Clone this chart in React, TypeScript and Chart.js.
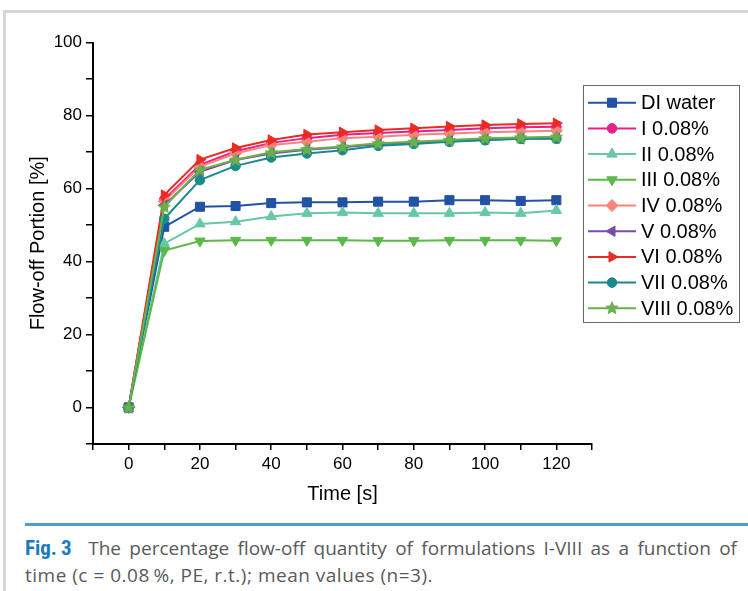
import React, { useEffect, useRef } from 'react';
import { Chart, registerables } from 'chart.js';

Chart.register(...registerables);

// ---- data ----
const times = [0, 10, 20, 30, 40, 50, 60, 70, 80, 90, 100, 110, 120];
const seriesNames = ['DI water', 'I 0.08%', 'II 0.08%', 'III 0.08%', 'IV 0.08%', 'V 0.08%', 'VI 0.08%', 'VII 0.08%', 'VIII 0.08%'];
const diWater = [0, 49.5, 55.0, 55.2, 56.0, 56.2, 56.2, 56.4, 56.4, 56.8, 56.8, 56.6, 56.8];
const form1 = [0, 57.0, 66.5, 70.2, 72.5, 73.8, 74.7, 75.2, 75.6, 76.0, 76.5, 76.8, 76.9];
const form2 = [0, 44.9, 50.3, 50.9, 52.3, 53.2, 53.4, 53.2, 53.2, 53.2, 53.4, 53.2, 54.0];
const form3 = [0, 43.0, 45.6, 45.8, 45.8, 45.8, 45.8, 45.7, 45.7, 45.8, 45.8, 45.8, 45.7];
const form4 = [0, 56.5, 66.0, 69.6, 71.9, 72.8, 73.8, 74.2, 74.7, 75.1, 75.4, 75.6, 75.8];
const form5 = [0, 55.4, 64.6, 67.8, 69.6, 70.6, 71.3, 72.1, 72.6, 73.0, 73.4, 73.6, 73.8];
const form6 = [0, 58.2, 67.9, 71.1, 73.3, 74.8, 75.4, 76.0, 76.5, 77.0, 77.4, 77.7, 77.9];
const form7 = [0, 51.7, 62.3, 66.2, 68.5, 69.6, 70.5, 71.7, 72.2, 72.8, 73.2, 73.6, 73.6];
const form8 = [0, 55.0, 65.1, 67.9, 69.9, 70.8, 71.5, 72.4, 72.8, 73.3, 73.8, 74.0, 74.2];
const seriesValues = [diWater, form1, form2, form3, form4, form5, form6, form7, form8];

const xTickValues = [-10, 0, 10, 20, 30, 40, 50, 60, 70, 80, 90, 100, 110, 120, 130];
const xTickLabels = [0, 20, 40, 60, 80, 100, 120];
const yTickValues = [-10, 0, 10, 20, 30, 40, 50, 60, 70, 80, 90, 100];
const yTickLabels = [0, 20, 40, 60, 80, 100];

// ---- styles ----
const colors = ['#2252a3', '#e8208c', '#68c7a6', '#5cb848', '#f6847b', '#7b4ca9', '#ec2a22', '#1a8a8b', '#6ab04c'];
const markerStyles = ['rect', 'circle', 'triangle', 'triangle', 'rectRot', 'triangle', 'triangle', 'circle', 'star'];
const markerRotations = [0, 0, 0, 180, 0, 270, 90, 0, 0];
const markerRadii = [6.4, 4.8, 6, 6, 6, 6, 6, 4.8, 6.5];

const FONT = "'Liberation Sans', Arial, sans-serif";

function drawMarker(ctx: CanvasRenderingContext2D, style: string, x: number, y: number, r: number, rot: number, color: string) {
  ctx.save();
  ctx.fillStyle = color;
  ctx.strokeStyle = color;
  ctx.lineWidth = 1;
  ctx.beginPath();
  if (style === 'rect') {
    const h = r * Math.SQRT1_2;
    ctx.rect(x - h, y - h, 2 * h, 2 * h);
  } else if (style === 'circle') {
    ctx.arc(x, y, r, 0, Math.PI * 2);
  } else if (style === 'triangle') {
    let rad = (rot * Math.PI) / 180;
    ctx.moveTo(x + Math.sin(rad) * r, y - Math.cos(rad) * r);
    rad += (2 * Math.PI) / 3;
    ctx.lineTo(x + Math.sin(rad) * r, y - Math.cos(rad) * r);
    rad += (2 * Math.PI) / 3;
    ctx.lineTo(x + Math.sin(rad) * r, y - Math.cos(rad) * r);
    ctx.closePath();
  } else if (style === 'rectRot') {
    ctx.moveTo(x - r, y);
    ctx.lineTo(x, y - r);
    ctx.lineTo(x + r, y);
    ctx.lineTo(x, y + r);
    ctx.closePath();
  } else if (style === 'star') {
    for (let i = 0; i < 10; i++) {
      const rr = i % 2 === 0 ? r : r * 0.45;
      const a = (i * Math.PI) / 5;
      const px = x + Math.sin(a) * rr;
      const py = y - Math.cos(a) * rr;
      if (i === 0) ctx.moveTo(px, py);
      else ctx.lineTo(px, py);
    }
    ctx.closePath();
  }
  ctx.fill();
  ctx.stroke();
  ctx.restore();
}

function makeStarImage(color: string, r: number) {
  const c = document.createElement('canvas');
  const s = Math.ceil(r * 2 + 3);
  c.width = s;
  c.height = s;
  const ctx = c.getContext('2d')!;
  drawMarker(ctx, 'star', s / 2, s / 2 + 0.5, r, 0, color);
  return c;
}

const legendPlugin = {
  id: 'boxLegend',
  afterDraw(chart: any) {
    const ctx: CanvasRenderingContext2D = chart.ctx;
    ctx.save();
    ctx.strokeStyle = '#666';
    ctx.lineWidth = 1;
    ctx.strokeRect(583.5, 85.5, 156, 237);
    const y0 = 102.7;
    const step = 25.7;
    seriesNames.forEach((name, i) => {
      const y = y0 + i * step;
      ctx.strokeStyle = colors[i];
      ctx.lineWidth = 2;
      ctx.beginPath();
      ctx.moveTo(588, y);
      ctx.lineTo(636, y);
      ctx.stroke();
      drawMarker(ctx, markerStyles[i], 612, y, markerRadii[i], markerRotations[i], colors[i]);
      ctx.fillStyle = '#000';
      ctx.font = `20px ${FONT}`;
      ctx.textBaseline = 'middle';
      ctx.textAlign = 'left';
      ctx.fillText(name, 641, y + 1);
    });
    ctx.restore();
  },
};

export default function App() {
  const canvasRef = useRef<HTMLCanvasElement | null>(null);

  useEffect(() => {
    document.body.style.margin = '0';
    const canvas = canvasRef.current!;
    const datasets = seriesNames.map((name, i) => ({
      label: name,
      data: times.map((t, k) => ({ x: t, y: seriesValues[i][k] })),
      borderColor: colors[i],
      backgroundColor: colors[i],
      borderWidth: 2,
      pointStyle: markerStyles[i] === 'star' ? makeStarImage(colors[i], markerRadii[i]) : markerStyles[i],
      pointRotation: markerRotations[i],
      pointRadius: markerRadii[i],
      pointBorderColor: colors[i],
      pointBackgroundColor: colors[i],
      pointBorderWidth: 1,
      tension: 0,
      order: seriesNames.length - i,
    }));

    const chart = new Chart(canvas, {
      type: 'line',
      data: { datasets },
      plugins: [legendPlugin],
      options: {
        animation: false,
        responsive: false,
        devicePixelRatio: 1,
        layout: { padding: { left: 0, right: 156, top: 42.5, bottom: 0 } },
        plugins: { legend: { display: false }, tooltip: { enabled: false } },
        scales: {
          x: {
            type: 'linear',
            min: -10,
            max: 130,
            afterBuildTicks: (scale: any) => {
              scale.ticks = xTickValues.map((v) => ({ value: v }));
            },
            afterFit: (scale: any) => {
              scale.height = 76;
            },
            ticks: {
              autoSkip: false,
              maxRotation: 0,
              minRotation: 0,
              padding: 4,
              color: '#000',
              font: { family: FONT, size: 17 },
              callback: (v: any) => (xTickLabels.includes(Number(v)) ? String(v) : ''),
            },
            grid: { display: true, drawOnChartArea: false, drawTicks: true, tickLength: 6, color: '#000', lineWidth: 1.5 },
            border: { display: true, color: '#000', width: 2 },
            title: { display: true, text: 'Time [s]', color: '#000', font: { family: FONT, size: 20 }, padding: { top: 0, bottom: 14 } },
          },
          y: {
            type: 'linear',
            min: -10,
            max: 100,
            afterBuildTicks: (scale: any) => {
              scale.ticks = yTickValues.map((v) => ({ value: v }));
            },
            afterFit: (scale: any) => {
              scale.width = 93;
            },
            ticks: {
              autoSkip: false,
              padding: 4,
              color: '#000',
              font: { family: FONT, size: 17 },
              callback: (v: any) => (yTickLabels.includes(Number(v)) ? String(v) : ''),
            },
            grid: { display: true, drawOnChartArea: false, drawTicks: true, tickLength: 7, color: '#000', lineWidth: 1.5 },
            border: { display: true, color: '#000', width: 2 },
            title: { display: true, text: 'Flow-off Portion [%]', color: '#000', font: { family: FONT, size: 20 }, padding: { top: 26, bottom: 0 } },
          },
        },
      },
    } as any);
    return () => chart.destroy();
  }, []);

  const captionFont = "'Open Sans', 'Noto Sans', sans-serif";
  const figFont = "'Roboto Condensed', 'Liberation Sans Narrow', 'Open Sans', sans-serif";

  return (
    <div style={{ position: 'relative', width: 748, height: 591, background: '#fff', overflow: 'hidden' }}>
      <div
        style={{
          position: 'absolute',
          left: 3,
          top: 10,
          width: 745,
          height: 581,
          borderTop: '3px solid #d6d6d6',
          borderLeft: '3px solid #d6d6d6',
          boxSizing: 'border-box',
        }}
      />
      <canvas ref={canvasRef} width={748} height={520} style={{ position: 'absolute', left: 0, top: 0, width: 748, height: 520 }} />
      <div style={{ position: 'absolute', left: 25, top: 523, width: 723, height: 3, background: '#4a9fd6' }} />
      <div
        style={{
          position: 'absolute',
          left: 25,
          top: 535,
          width: 712,
          fontFamily: captionFont,
          fontSize: 19,
          fontWeight: 400,
          lineHeight: '27px',
          color: '#5a5a5c',
        }}
      >
        <div style={{ textAlign: 'justify', textAlignLast: 'justify', whiteSpace: 'nowrap' as any }}>
          <span style={{ color: '#1b7bbf', fontWeight: 'bold', fontFamily: figFont, fontSize: 21 }}>Fig.&#8201;3</span>
          {'\u00a0\u00a0The percentage flow-off quantity of formulations I-VIII as a function of'}
        </div>
        <div style={{ letterSpacing: '0.5px' }}>time (c = 0.08&#8201;%, PE, r.t.); mean values (n=3).</div>
      </div>
    </div>
  );
}
